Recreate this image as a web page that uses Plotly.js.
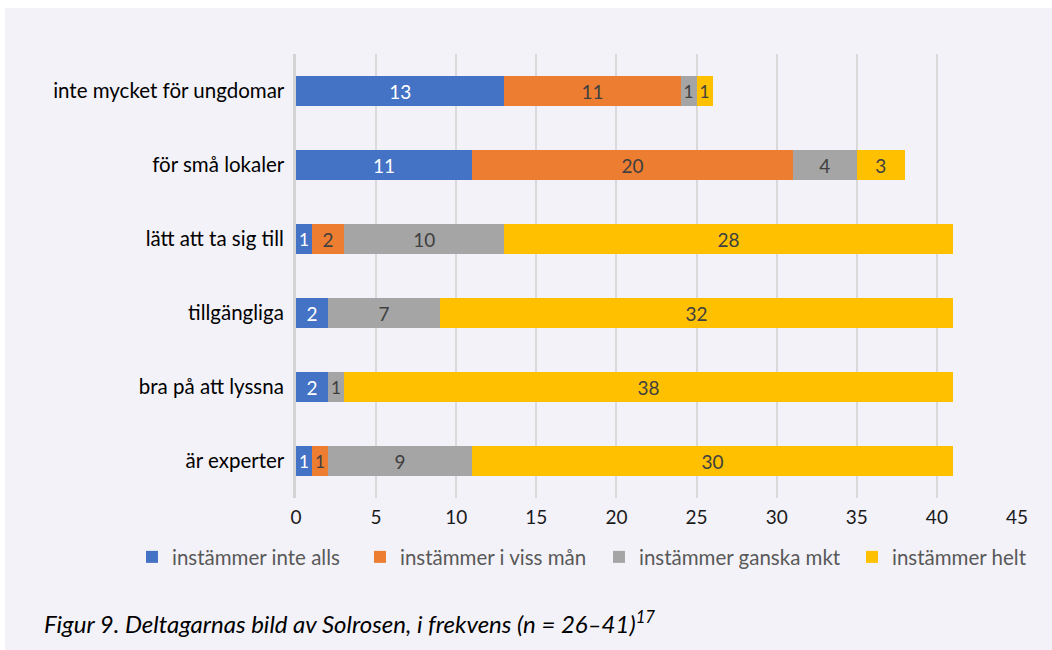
<!DOCTYPE html>
<html>
<head>
<meta charset="utf-8">
<script src="https://cdn.plot.ly/plotly-3.0.1.min.js"></script>
<style>
  html, body { margin: 0; padding: 0; background: #ffffff; }
  #chart { position: absolute; left: 5px; top: 8px; width: 1047px; height: 642px; }
</style>
</head>
<body>
<div id="chart"></div>
<script>
var categories = ['inte mycket för ungdomar', 'för små lokaler', 'lätt att ta sig till',
                  'tillgängliga', 'bra på att lyssna', 'är experter'];
var seriesNames = ['instämmer inte alls', 'instämmer i viss mån', 'instämmer ganska mkt', 'instämmer helt'];
var inteAlls   = [13, 11, 1, 2, 2, 1];
var vissMan    = [11, 20, 2, 0, 0, 1];
var ganskaMkt  = [1, 4, 10, 7, 1, 9];
var helt       = [1, 3, 28, 32, 38, 30];
var colors     = ['#4472c4', '#ed7d31', '#a5a5a5', '#ffc000'];
var textColors = ['#ffffff', '#404040', '#404040', '#404040'];
var legendWidths = [183, 194, 208, 150];
var xTicks = [0, 5, 10, 15, 20, 25, 30, 35, 40, 45];

var FONT = 'Lato, "Open Sans", sans-serif';

function makeTrace(values, i) {
  return {
    type: 'bar',
    orientation: 'h',
    name: seriesNames[i],
    y: categories,
    x: values,
    text: values.map(function(v) { return v ? String(v) : ''; }),
    textposition: 'inside',
    insidetextanchor: 'middle',
    insidetextfont: {family: FONT, size: 19, color: textColors[i]},
    marker: {color: colors[i], line: {width: 0}},
    legendwidth: legendWidths[i],
    hoverinfo: 'x+name'
  };
}

var data = [inteAlls, vissMan, ganskaMkt, helt].map(makeTrace);

var layout = {
  width: 1047,
  height: 642,
  barmode: 'stack',
  bargap: 0.595,
  paper_bgcolor: '#f3f2f8',
  plot_bgcolor: '#f3f2f8',
  font: {family: FONT, size: 19, color: '#1a1a1a'},
  margin: {l: 291, r: 35, t: 46, b: 152},
  xaxis: {
    range: [0, 45],
    tickvals: xTicks,
    showgrid: true,
    gridcolor: '#d9d9d9',
    gridwidth: 1.5,
    zeroline: false,
    showline: false,
    ticks: '',
    tickfont: {family: FONT, size: 19, color: '#1a1a1a'},
    ticklabelstandoff: 6
  },
  yaxis: {
    autorange: 'reversed',
    showgrid: false,
    showline: true,
    linecolor: '#d4d4d4',
    linewidth: 2.5,
    ticks: '',
    ticksuffix: ' ',
    tickfont: {family: FONT, size: 20.5, color: '#000000'}
  },
  showlegend: true,
  legend: {
    orientation: 'h',
    x: -0.2275,
    xanchor: 'left',
    y: -0.133,
    yanchor: 'middle',
    font: {family: FONT, size: 20.5, color: '#595959'},
    bgcolor: 'rgba(0,0,0,0)',
    traceorder: 'normal'
  },
  annotations: [{
    xref: 'paper', yref: 'paper',
    x: -0.352, y: -0.279,
    xanchor: 'left', yanchor: 'middle',
    showarrow: false,
    text: '<i>Figur 9. Deltagarnas bild av Solrosen, i frekvens (n = 26–41)<sup>17</sup></i>',
    font: {family: FONT, size: 24, color: '#000000'}
  }]
};

Plotly.newPlot('chart', data, layout, {displayModeBar: false});
</script>
</body>
</html>
